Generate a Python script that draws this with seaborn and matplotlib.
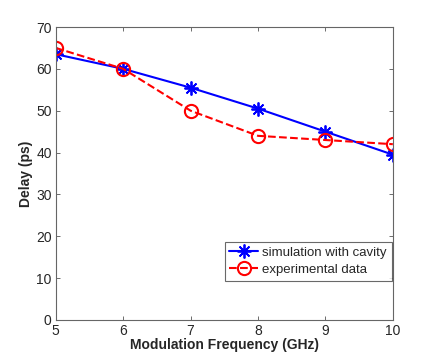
"""
Delay vs modulation frequency
"""
import numpy as np
import pandas as pd
import matplotlib
matplotlib.use('Agg')
import matplotlib.pyplot as plt
import seaborn as sns

freq = [5, 6, 7, 8, 9, 10]
delay_sim = [63.5, 60.0, 55.5, 50.5, 45.0, 39.5]
delay_exp = [65.0, 60.0, 50.0, 44.0, 43.0, 42.0]
labels = ['simulation with cavity', 'experimental data']

sns.set_style('white')
plt.rcParams['font.family'] = ['Liberation Sans', 'DejaVu Sans']

fig = plt.figure(figsize=(4.36, 3.61), dpi=100)
ax = fig.add_axes([0.128, 0.1136, 0.773, 0.8116])

df_sim = pd.DataFrame({'f': freq, 'd': delay_sim})
df_exp = pd.DataFrame({'f': freq, 'd': delay_exp})

# asterisk like matlab '*': plus and cross together
sns.lineplot(data=df_sim, x='f', y='d', ax=ax, color='#0000ff', linewidth=1.5,
             marker=(8, 2, 0), markersize=10, markeredgewidth=1.3,
             markeredgecolor='#0000ff', label=labels[0])
sns.lineplot(data=df_exp, x='f', y='d', ax=ax, color='#ff0000', linewidth=1.5,
             linestyle='--', marker='o', markersize=9.5, markerfacecolor='none',
             markeredgecolor='#ff0000', markeredgewidth=1.5, label=labels[1])

ax.set_xlim(5, 10)
ax.set_ylim(0, 70)
ax.set_xticks(freq)
ax.set_yticks(np.arange(0, 71, 10))
ax.set_xlabel('Modulation Frequency (GHz)', fontsize=10, fontweight='bold', labelpad=0)
ax.set_ylabel('Delay (ps)', fontsize=10, fontweight='bold', labelpad=2)
ax.tick_params(direction='in', length=3, width=0.6, color='#555555', labelsize=10,
               top=True, right=True, bottom=True, left=True, pad=3)
for s in ax.spines.values():
    s.set_color('#666666')
    s.set_linewidth(0.8)

leg = ax.legend(loc='lower right', bbox_to_anchor=(1.0, 0.13), fontsize=9.5,
                frameon=True, fancybox=False, borderpad=0.35, handlelength=2.2,
                labelspacing=0.35, handletextpad=0.3, borderaxespad=0.1)
leg.get_frame().set_edgecolor('#444444')
leg.get_frame().set_linewidth(0.8)

fig.savefig('out.png', dpi=100)
